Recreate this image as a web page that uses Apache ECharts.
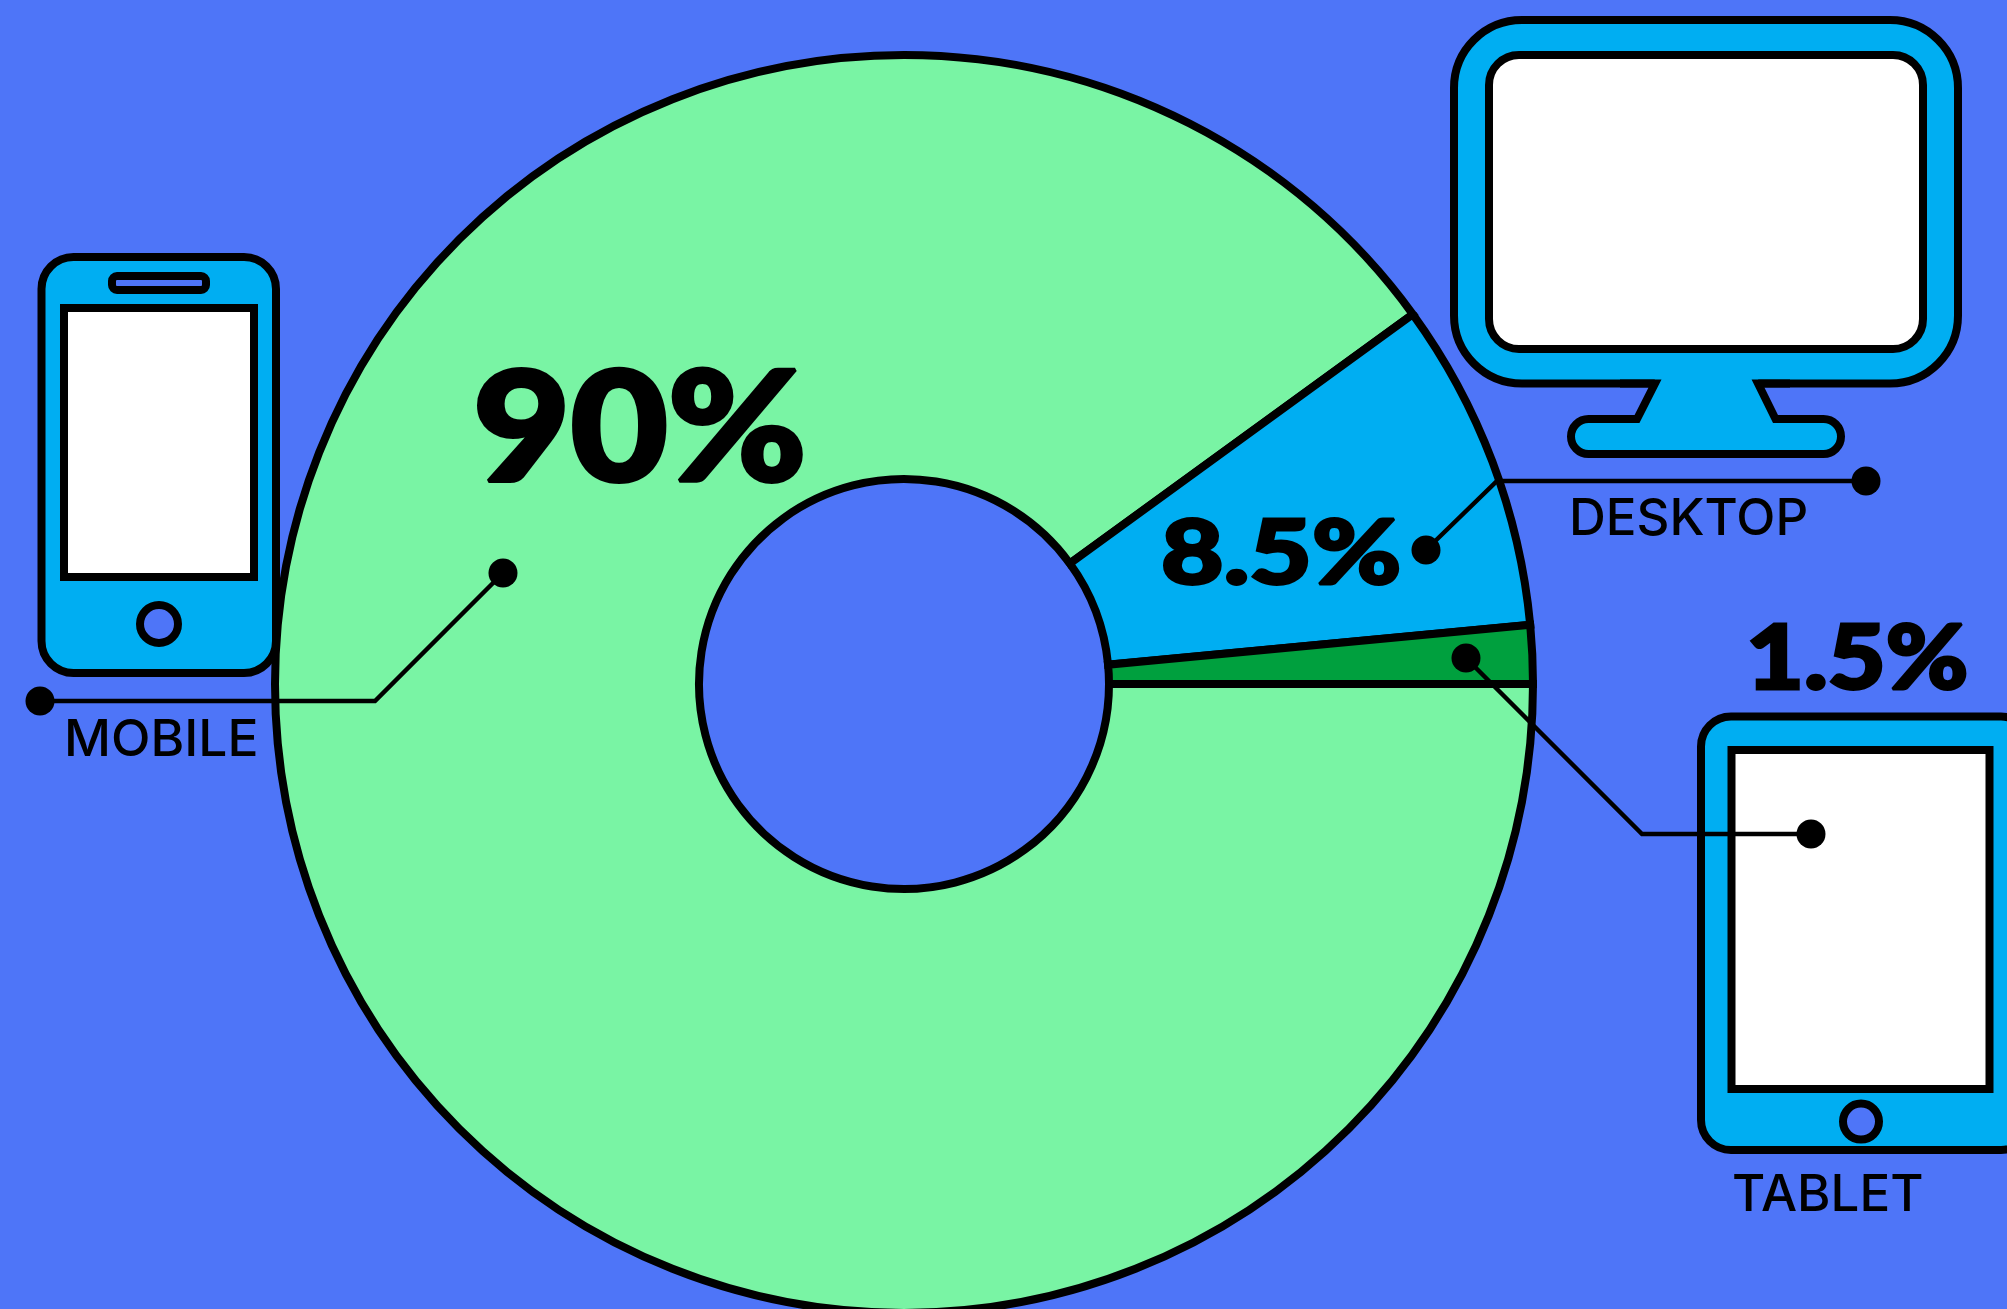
<!DOCTYPE html>
<html>
<head>
<meta charset="utf-8">
<script src="https://cdn.jsdelivr.net/npm/echarts@6/dist/echarts.min.js"></script>
<style>html,body{margin:0;padding:0;background:#4e75f8}#c{width:2007px;height:1309px}</style>
</head>
<body>
<div id="c"></div>
<script>
const categories = ['MOBILE', 'DESKTOP', 'TABLET'];
const shareValues = [90, 8.5, 1.5];
const sliceColors = ['#79f4a4', '#00aef2', '#00a03e'];

const BG = '#4e75f8', SKY = '#00aef2', K = '#000';
const base = {lineJoin: 'miter', miterLimit: 20, lineWidth: 8, stroke: K};
const rect = (x, y, w, h, r, fill) => ({type: 'rect', z: 10, silent: true,
  shape: {x, y, width: w, height: h, r}, style: {...base, fill}});
const circle = (cx, cy, r, fill) => ({type: 'circle', z: 10, silent: true,
  shape: {cx, cy, r}, style: {...base, fill}});
const poly = (pts, fill) => ({type: 'polygon', z: 10, silent: true, shape: {points: pts}, style: {fill}});
const stroke8 = (pts) => ({type: 'polyline', z: 10, silent: true, shape: {points: pts}, style: {...base, fill: null}});
const dot = (cx, cy) => ({type: 'circle', z: 20, silent: true, shape: {cx, cy, r: 14.5}, style: {fill: K}});
const leader = (pts) => ({type: 'polyline', z: 19, silent: true, shape: {points: pts},
  style: {stroke: K, lineWidth: 4.5, fill: null, lineJoin: 'miter', miterLimit: 20}});
const txt = (text, x, y, size, weight, sx, family, sw) => ({type: 'text', z: 21, silent: true, x, y, scaleX: sx || 1,
  style: {text, fill: K, font: weight + ' ' + size + 'px ' + (family || 'Inter') + ', sans-serif', textAlign: 'left', textVerticalAlign: 'middle',
    stroke: sw ? K : null, lineWidth: sw || 0, lineJoin: 'round'}});

const graphics = [
  // phone
  rect(41.5, 257, 234.5, 416, 32, SKY),
  rect(112, 276, 94, 14, 5, BG),
  rect(64, 308, 190, 269, 0, '#fff'),
  circle(159, 624, 19, BG),
  // monitor
  rect(1567 + 4, 419, 270, 35, 17.5, SKY),
  rect(1454, 20, 504, 363.5, 68, SKY),
  poly([[1655, 379], [1758, 379], [1775.5, 423], [1637, 423]], SKY),
  stroke8([[1620, 383.5], [1655, 383.5], [1637, 419], [1610, 419]]),
  stroke8([[1790, 383.5], [1758, 383.5], [1775.5, 419], [1800, 419]]),
  rect(1489, 55, 434, 294, 30, '#fff'),
  // tablet
  rect(1701, 716.5, 330, 433.5, 30, SKY),
  rect(1731.5, 750, 258, 339, 0, '#fff'),
  circle(1861, 1121.6, 18, BG),
  // leaders
  leader([[40, 701], [375, 701], [503, 573]]),
  dot(40, 701), dot(503, 573),
  leader([[1866, 481], [1497, 481], [1426, 550]]),
  dot(1866, 481), dot(1426, 550),
  leader([[1811, 834], [1642, 834], [1466, 658]]),
  dot(1811, 834), dot(1466, 658),
  // category labels
  txt(categories[0], 64, 741, 51, 500, 1.01),
  txt(categories[1], 1569, 520, 51, 500, 1),
  txt(categories[2], 1732, 1196, 51, 500, 1),
  // shares
  txt(shareValues[0] + '%', 473, 432, 152, 900, 1.105, 'Lato', 4),
  txt(shareValues[1] + '%', 1161, 554.5, 90, 900, 1.2, 'Lato', 3),
  txt(shareValues[2] + '%', 1746, 660, 90, 900, 1.11, 'Lato', 3)
];

const chart = echarts.init(document.getElementById('c'));
chart.setOption({
  animation: false,
  backgroundColor: BG,
  series: [{
    type: 'pie',
    silent: true,
    center: [904, 684],
    radius: [205, 629],
    startAngle: 0,
    clockwise: true,
    avoidLabelOverlap: false,
    label: {show: false},
    labelLine: {show: false},
    itemStyle: {borderColor: K, borderWidth: 8, borderJoin: 'miter', borderMiterLimit: 20},
    data: categories.map((name, i) => ({name, value: shareValues[i], itemStyle: {color: sliceColors[i]}}))
  }],
  graphic: {elements: graphics}
});
</script>
</body>
</html>
